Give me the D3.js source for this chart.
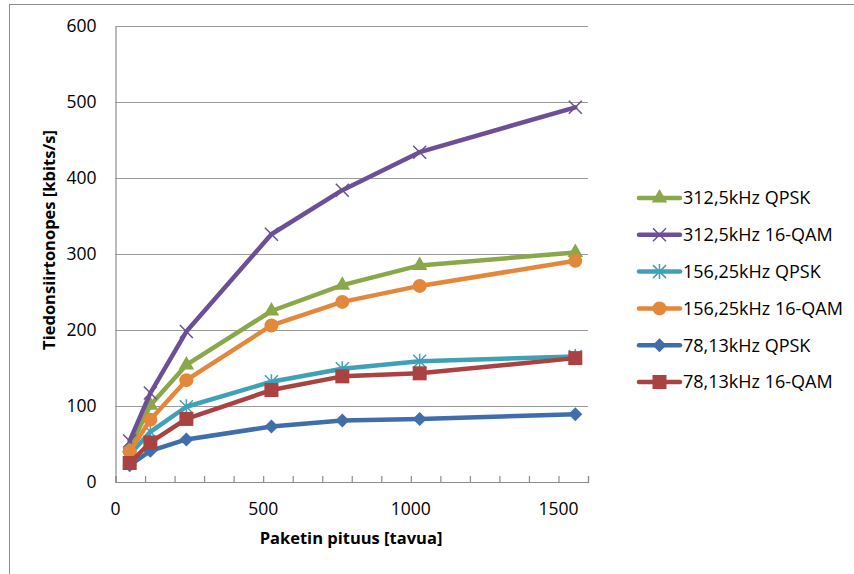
<!DOCTYPE html>
<html><head><meta charset="utf-8">
<script src="https://cdn.jsdelivr.net/npm/d3@7"></script>
<style>body{margin:0;background:#fff}svg{display:block}</style>
</head><body>
<script>
const packetSizes = [48, 118, 240, 528, 768, 1030, 1557];
const s312QPSK  = [45, 101, 154, 225, 259, 285, 302];
const s312QAM   = [54, 117, 198, 326, 384, 434, 493];
const s156QPSK  = [36, 66, 99, 132, 149, 159, 165];
const s156QAM   = [40, 82, 134, 206, 237, 258, 291];
const s78QPSK   = [22, 41, 56, 73, 81, 83, 89];
const s78QAM    = [25, 52, 83, 121, 139, 143, 163];
const seriesNames = ["312,5kHz QPSK","312,5kHz 16-QAM","156,25kHz QPSK","156,25kHz 16-QAM","78,13kHz QPSK","78,13kHz 16-QAM"];
const yTicks = [0,100,200,300,400,500,600];
const xTicks = [0,500,1000,1500];
const xTitle = "Paketin pituus [tavua]";
const yTitle = "Tiedonsiirtonopes [kbits/s]";

const series = [
  {name: seriesNames[0], values: s312QPSK, color: "#8aa84a", marker: "triangle"},
  {name: seriesNames[1], values: s312QAM,  color: "#6c4f96", marker: "x"},
  {name: seriesNames[2], values: s156QPSK, color: "#3fa1b8", marker: "star"},
  {name: seriesNames[3], values: s156QAM,  color: "#e3883a", marker: "circle"},
  {name: seriesNames[4], values: s78QPSK,  color: "#3f6eaa", marker: "diamond"},
  {name: seriesNames[5], values: s78QAM,   color: "#aa4242", marker: "square"}
];
const drawOrder = [0,1,2,3,4,5];

const W = 854, H = 574;
const svg = d3.select("body").append("svg").attr("width", W).attr("height", H);
const font = "'Open Sans', sans-serif";

// outer frame
svg.append("rect").attr("x", 9.5).attr("y", 4.5).attr("width", 900).attr("height", 600)
  .attr("fill", "none").attr("stroke", "#8c8c8c").attr("stroke-width", 1);

const x = d3.scaleLinear().domain([0, 1600]).range([115.5, 588]);
const y = d3.scaleLinear().domain([0, 600]).range([482, 26]);

// gridlines
svg.append("g").selectAll("line").data(yTicks.slice(1)).join("line")
  .attr("x1", x(0)).attr("x2", x(1600))
  .attr("y1", d => Math.round(y(d)) + 0.5).attr("y2", d => Math.round(y(d)) + 0.5)
  .attr("stroke", "#9a9a9a").attr("stroke-width", 1.2);

// y axis
const yAxis = d3.axisLeft(y).tickValues(yTicks).tickSize(0).tickPadding(19).tickFormat(d3.format("d"));
const gy = svg.append("g").attr("transform", `translate(${x(0)},0)`).call(yAxis);
gy.select(".domain").attr("stroke", "#8c8c8c").attr("stroke-width", 1.2);
gy.selectAll("text").attr("font-family", font).attr("font-size", 17.5).attr("fill", "#000");

// x axis: minor ticks every 100 pointing inward
const gx = svg.append("g").attr("transform", `translate(0,${y(0)})`);
gx.call(d3.axisTop(x).tickValues(d3.range(0, 1601, 100)).tickSize(6).tickFormat(""));
gx.select(".domain").attr("stroke", "#8c8c8c").attr("stroke-width", 1.2);
gx.selectAll(".tick line").attr("stroke", "#8c8c8c").attr("stroke-width", 1.2);
svg.append("g").selectAll("text").data(xTicks).join("text")
  .attr("x", d => x(d)).attr("y", 515).attr("text-anchor", "middle")
  .attr("font-family", font).attr("font-size", 17.5).text(d => d);

// axis titles
svg.append("text").attr("x", 351).attr("y", 544).attr("text-anchor", "middle")
  .attr("font-family", font).attr("font-size", 16.5).attr("font-weight", "bold").text(xTitle);
svg.append("text").attr("transform", "translate(55,240) rotate(-90)").attr("text-anchor", "middle")
  .attr("font-family", font).attr("font-size", 16.5).attr("font-weight", "bold").text(yTitle);

function drawMarker(g, type, color, cx, cy) {
  if (type === "triangle") {
    g.append("path").attr("d", d3.symbol(d3.symbolTriangle, 105)()).attr("transform", `translate(${cx},${cy})`).attr("fill", color);
  } else if (type === "circle") {
    g.append("circle").attr("cx", cx).attr("cy", cy).attr("r", 7).attr("fill", color);
  } else if (type === "square") {
    g.append("rect").attr("x", cx - 7).attr("y", cy - 7).attr("width", 14).attr("height", 14).attr("fill", color);
  } else if (type === "diamond") {
    g.append("path").attr("d", `M${cx},${cy-7}L${cx+7},${cy}L${cx},${cy+7}L${cx-7},${cy}Z`).attr("fill", color);
  } else if (type === "x") {
    const r = 6.5;
    g.append("path").attr("d", `M${cx-r},${cy-r}L${cx+r},${cy+r}M${cx-r},${cy+r}L${cx+r},${cy-r}`)
      .attr("stroke", color).attr("stroke-width", 1.5).attr("fill", "none");
  } else if (type === "star") {
    const r = 6.5;
    g.append("path").attr("d", `M${cx-r},${cy-r}L${cx+r},${cy+r}M${cx-r},${cy+r}L${cx+r},${cy-r}M${cx},${cy-r-1}L${cx},${cy+r+1}`)
      .attr("stroke", color).attr("stroke-width", 1.5).attr("fill", "none");
  }
}

const line = d3.line().x((d, i) => x(packetSizes[i])).y(d => y(d));
drawOrder.forEach(k => {
  const s = series[k];
  const g = svg.append("g");
  g.append("path").attr("d", line(s.values)).attr("fill", "none")
    .attr("stroke", s.color).attr("stroke-width", 4.5).attr("stroke-linejoin", "round").attr("stroke-linecap", "round");
  s.values.forEach((v, i) => drawMarker(g, s.marker, s.color, x(packetSizes[i]), y(v)));
});

// legend
const lg = svg.append("g");
series.forEach((s, i) => {
  const cy = 198 + i * 36.8;
  const g = lg.append("g");
  g.append("line").attr("x1", 639).attr("x2", 680).attr("y1", cy).attr("y2", cy)
    .attr("stroke", s.color).attr("stroke-width", 4.5).attr("stroke-linecap", "round");
  drawMarker(g, s.marker, s.color, 659.5, cy);
  g.append("text").attr("x", 683).attr("y", cy).attr("dy", "0.36em")
    .attr("font-family", font).attr("font-size", 18).text(s.name);
});
</script>
</body></html>
